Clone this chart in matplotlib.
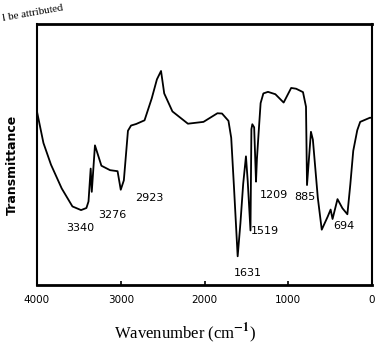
import matplotlib
matplotlib.use("Agg")
import matplotlib.pyplot as plt

# Spectrum (wavenumber in cm^-1, transmittance in arbitrary %)
wavenumber = [4000, 3923, 3833, 3705, 3577, 3474, 3410, 3385, 3359, 3346, 3308,
              3231, 3128, 3038, 3000, 2963, 2914, 2877, 2815, 2716, 2630, 2568,
              2519, 2481, 2383, 2198, 2012, 1846, 1791, 1714, 1681, 1648, 1604,
              1571, 1538, 1505, 1484, 1451, 1440, 1429, 1407, 1385, 1374, 1352,
              1330, 1297, 1242, 1154, 1055, 965, 906, 824, 788, 776, 729, 706,
              647, 600, 529, 494, 471, 412, 353, 294, 259, 224, 176, 141, 24, 0]
transmittance = [66.4, 54.4, 46.1, 37.0, 30.1, 28.7, 29.5, 32.0, 44.6, 35.7, 53.5,
                 45.7, 44.0, 43.6, 36.5, 40.1, 59.1, 61.1, 61.7, 63.1, 71.5, 78.8,
                 82.0, 73.4, 66.5, 61.8, 62.5, 65.8, 65.7, 62.9, 56.4, 37.5, 11.0,
                 23.7, 38.8, 49.3, 39.8, 20.9, 59.7, 61.6, 60.4, 39.6, 48.3, 59.2,
                 69.7, 73.4, 74.0, 73.1, 69.9, 75.5, 75.2, 73.9, 68.3, 38.3, 58.7, 55.7,
                 33.4, 21.2, 26.2, 28.9, 25.3, 32.9, 29.4, 27.1, 38.5, 51.4, 59.3, 62.5, 64.1, 64.0]

# Peak annotations: label text and label position (wavenumber, transmittance)
peak_labels = ["3340", "3276", "2923", "1631", "1519", "1209", "885", "694"]
label_wn = [3487, 3103, 2655, 1484, 1275, 1176, 800, 341]
label_t = [21.8, 27.0, 33.5, 4.7, 20.5, 34.3, 33.7, 22.7]

x_ticks = [4000, 3000, 2000, 1000, 0]
x_tick_labels = ["4000", "3000", "2000", "1000", "0"]

plt.rcParams["mathtext.fontset"] = "stix"

fig = plt.figure(figsize=(3.76, 3.51), dpi=100)
ax = fig.add_axes([37/376, 1-285/351, (372-37)/376, (285-24)/351])

ax.plot(wavenumber, transmittance, color="black", lw=1.3)
ax.set_xlim(4000, 0)
ax.set_ylim(0, 100)

for s in ax.spines.values():
    s.set_linewidth(1.5)
ax.spines["top"].set_linewidth(2.0)
ax.spines["bottom"].set_linewidth(2.0)

ax.set_yticks([])
ax.set_xticks(x_ticks)
ax.set_xticklabels(x_tick_labels, fontsize=7.5)
ax.tick_params(axis="x", direction="in", length=3, width=1.2, pad=7)

for txt, xw, yt in zip(peak_labels, label_wn, label_t):
    ax.text(xw, yt, txt, fontsize=8, ha="center", va="center", color="black")

fig.text(12/376, 1-165/351, "Transmittance", rotation=90, fontsize=9,
         fontweight="bold", ha="center", va="center")
fig.text(185/376, 1-333/351, "Wavenumber (cm$^{\\mathbf{-1}}$)", fontsize=12,
         family="Liberation Serif", ha="center", va="center")
fig.text(2/376, 1-13/351, "l be attributed", rotation=10, fontsize=8,
         family="Liberation Serif", ha="left", va="center")

fig.savefig("out.png", dpi=100)
